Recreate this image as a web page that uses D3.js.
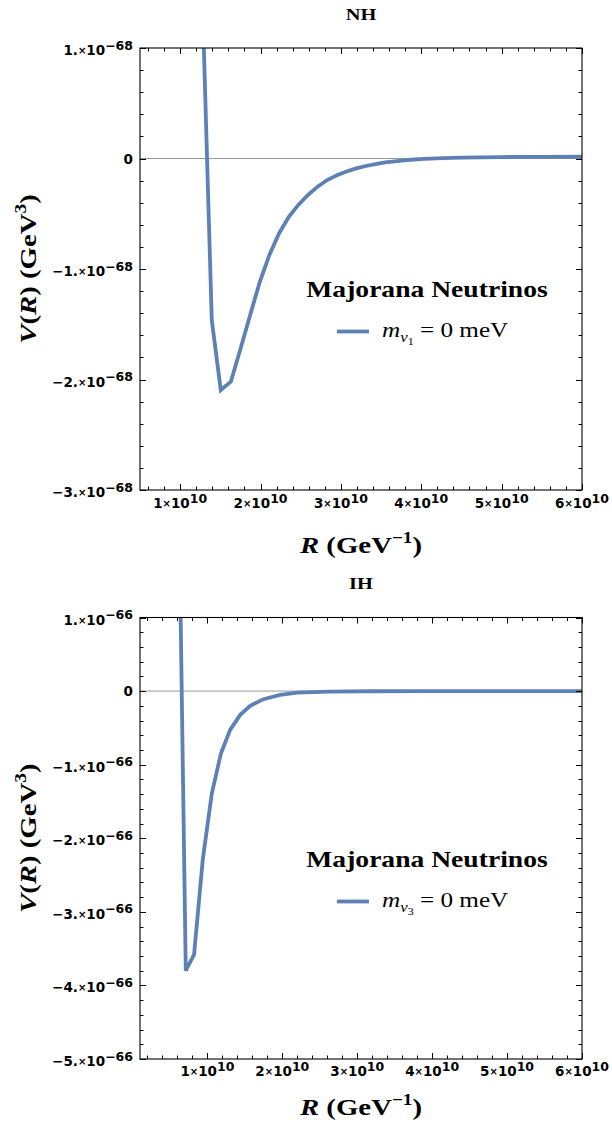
<!DOCTYPE html>
<html>
<head>
<meta charset="utf-8">
<title>V(R) NH / IH</title>
<script src="https://cdn.jsdelivr.net/npm/d3@7"></script>
<style>
  body { margin: 0; background: #fff; }
  svg text { fill: #000; }
  .tick-label { font-family: "DejaVu Sans", Arial, sans-serif; font-weight: bold; font-size: 13.5px; }
  .serif { font-family: "Liberation Serif", "Times New Roman", serif; }
</style>
</head>
<body>
<svg id="chart" width="612" height="1129"></svg>
<script>
// ---- data (R in GeV^-1, V in GeV^3) ----
// NH panel, m_nu1 = 0 meV
var nhR = [1.27e10, 1.393e10, 1.505e10, 1.63e10, 1.75e10, 1.87e10, 1.99e10, 2.11e10, 2.23e10, 2.35e10,
           2.47e10, 2.59e10, 2.71e10, 2.83e10, 2.95e10, 3.07e10, 3.19e10, 3.31e10, 3.43e10, 3.55e10,
           3.67e10, 3.79e10, 3.91e10, 4.03e10, 4.27e10, 4.51e10, 4.99e10, 5.47e10, 6.0e10];
var nhV = [1.61e-68, -1.462e-68, -2.095e-68, -2.02e-68, -1.724e-68, -1.419e-68, -1.118e-68, -0.873e-68, -0.678e-68, -0.530e-68,
           -0.420e-68, -0.330e-68, -0.255e-68, -0.195e-68, -0.152e-68, -0.118e-68, -0.090e-68, -0.068e-68, -0.050e-68, -0.036e-68,
           -0.025e-68, -0.016e-68, -0.009e-68, -0.004e-68, 0.004e-68, 0.008e-68, 0.013e-68, 0.015e-68, 0.016e-68];

// IH panel, m_nu3 = 0 meV
var ihR = [0.59e10, 0.711e10, 0.822e10, 0.938e10, 1.059e10, 1.179e10, 1.303e10, 1.437e10, 1.571e10, 1.748e10,
           1.972e10, 2.195e10, 2.64e10, 3.2e10, 4.0e10, 5.0e10, 6.0e10];
var ihV = [4.7e-66, -3.80e-66, -3.58e-66, -2.29e-66, -1.39e-66, -0.853e-66, -0.527e-66, -0.323e-66, -0.201e-66, -0.110e-66,
           -0.052e-66, -0.020e-66, -0.006e-66, -0.002e-66, 0.0, 0.0, 0.0];

// ticks
var nhXTicks = [1e10, 2e10, 3e10, 4e10, 5e10, 6e10];
var nhYTicks = [1e-68, 0, -1e-68, -2e-68, -3e-68];
var ihXTicks = [1e10, 2e10, 3e10, 4e10, 5e10, 6e10];
var ihYTicks = [1e-66, 0, -1e-66, -2e-66, -3e-66, -4e-66, -5e-66];

var panels = [
  { title: "NH", R: nhR, V: nhV, xTicks: nhXTicks, yTicks: nhYTicks, yExp: -68, nu: "1",
    xDomain: [0.5e10, 6e10], yDomain: [-3e-68, 1e-68], top: 48, bottom: 490,
    titleY: 20, legendY: 297, xLabelY: 553, xTickY: 508 },
  { title: "IH", R: ihR, V: ihV, xTicks: ihXTicks, yTicks: ihYTicks, yExp: -66, nu: "3",
    xDomain: [0.1e10, 6e10], yDomain: [-5e-66, 1e-66], top: 617.5, bottom: 1059,
    titleY: 589, legendY: 867, xLabelY: 1115, xTickY: 1076 }
];

var svg = d3.select("#chart");
var left = 140, right = 582;
var blue = "#5e81b5";
var sx = 1.2;   // the serif text in the picture is wider than Liberation Serif

// text placed with a horizontal stretch
function stext(g, x, y, extra) {
  return g.append("text")
    .attr("transform", "translate(" + x + "," + y + ")" + (extra || "") + " scale(" + sx + ",1)");
}

panels.forEach(function(p, pi) {
  var x = d3.scaleLinear().domain(p.xDomain).range([left, right]);
  var y = d3.scaleLinear().domain(p.yDomain).range([p.bottom, p.top]);
  var g = svg.append("g");

  // clip
  g.append("clipPath").attr("id", "clip" + pi)
    .append("rect").attr("x", left).attr("y", p.top)
    .attr("width", right - left).attr("height", p.bottom - p.top);

  // zero line
  g.append("line")
    .attr("x1", left).attr("x2", right)
    .attr("y1", y(0)).attr("y2", y(0))
    .attr("stroke", "#999").attr("stroke-width", 1);

  // curve
  var pts = p.R.map(function(r, i) { return [r, p.V[i]]; });
  g.append("path")
    .datum(pts)
    .attr("clip-path", "url(#clip" + pi + ")")
    .attr("fill", "none")
    .attr("stroke", blue)
    .attr("stroke-width", 3.8)
    .attr("stroke-linejoin", "miter")
    .attr("d", d3.line().x(function(d) { return x(d[0]); }).y(function(d) { return y(d[1]); }));

  // minor + major ticks on all four sides
  var xStep = 2e9;
  var xMinor = d3.range(Math.ceil(p.xDomain[0] / xStep) * xStep, p.xDomain[1] + 1, xStep);
  var yUnit = Math.pow(10, p.yExp);
  var yMinor = d3.range(p.yDomain[0] / yUnit, p.yDomain[1] / yUnit + 0.01, 0.2)
                 .map(function(v) { return Math.round(v * 10) / 10 * yUnit; });

  var tickG = g.append("g").attr("stroke", "#000").attr("stroke-width", 1);
  function isMajorX(v) { return Math.abs(v / 1e10 - Math.round(v / 1e10)) < 1e-6; }
  function isMajorY(v) { return Math.abs(v / yUnit - Math.round(v / yUnit)) < 1e-6; }

  xMinor.forEach(function(v) {
    var len = isMajorX(v) ? 6 : 3.5;
    var xx = Math.round(x(v)) + 0.5;
    tickG.append("line").attr("x1", xx).attr("x2", xx).attr("y1", p.bottom).attr("y2", p.bottom - len);
    tickG.append("line").attr("x1", xx).attr("x2", xx).attr("y1", p.top).attr("y2", p.top + len);
  });
  yMinor.forEach(function(v) {
    var len = isMajorY(v) ? 6 : 3.5;
    var yy = Math.round(y(v)) + 0.5;
    tickG.append("line").attr("x1", left).attr("x2", left + len).attr("y1", yy).attr("y2", yy);
    tickG.append("line").attr("x1", right).attr("x2", right - len).attr("y1", yy).attr("y2", yy);
  });

  // frame
  g.append("rect")
    .attr("x", left).attr("y", p.top)
    .attr("width", right - left).attr("height", p.bottom - p.top)
    .attr("fill", "none").attr("stroke", "#000").attr("stroke-width", 1.1);

  // x tick labels: "1×10^10"
  p.xTicks.forEach(function(v) {
    var m = Math.round(v / 1e10);
    var t = g.append("text").attr("class", "tick-label")
      .attr("x", x(v)).attr("y", p.xTickY).attr("text-anchor", "middle");
    t.append("tspan").text(m);
    t.append("tspan").attr("font-size", "10px").attr("dy", -1).text("\u00d7");
    t.append("tspan").attr("dy", 1).text("10");
    t.append("tspan").attr("font-size", "12.5px").attr("dy", -5).text("10");
  });

  // y tick labels: "-1.×10^-68"
  p.yTicks.forEach(function(v) {
    var m = Math.round(v / yUnit);
    var t = g.append("text").attr("class", "tick-label")
      .attr("x", 133).attr("text-anchor", "end");
    if (m === 0) {
      t.attr("y", y(v) + 5).text("0");
      return;
    }
    t.attr("y", y(v) + 7);
    t.append("tspan").text((m < 0 ? "\u2212" : "") + Math.abs(m) + ".");
    t.append("tspan").attr("font-size", "10px").attr("dy", -1).text("\u00d7");
    t.append("tspan").attr("dy", 1).text("10");
    t.append("tspan").attr("font-size", "12.5px").attr("dy", -5.5).text("\u2212" + Math.abs(p.yExp));
  });

  // title
  stext(g, (left + right) / 2, p.titleY).attr("class", "serif")
    .attr("text-anchor", "middle").attr("font-weight", "bold").attr("font-size", "17px")
    .text(p.title);

  // x axis label
  var xl = stext(g, (left + right) / 2, p.xLabelY).attr("class", "serif")
    .attr("text-anchor", "middle").attr("font-weight", "bold").attr("font-size", "24px");
  xl.append("tspan").attr("font-style", "italic").text("R");
  xl.append("tspan").text(" (GeV");
  xl.append("tspan").attr("font-size", "16px").attr("dy", -10).text("\u22121");
  xl.append("tspan").attr("dy", 10).text(")");

  // y axis label
  var yl = stext(g, 36, (p.top + p.bottom) / 2, " rotate(-90)").attr("class", "serif")
    .attr("text-anchor", "middle").attr("font-weight", "bold").attr("font-size", "24px");
  yl.append("tspan").attr("font-style", "italic").text("V");
  yl.append("tspan").text("(");
  yl.append("tspan").attr("font-style", "italic").text("R");
  yl.append("tspan").text(") (GeV");
  yl.append("tspan").attr("font-size", "16px").attr("dy", -10).text("3");
  yl.append("tspan").attr("dy", 10).text(")");

  // legend
  stext(g, 427, p.legendY).attr("class", "serif")
    .attr("text-anchor", "middle").attr("font-weight", "bold").attr("font-size", "23px")
    .text("Majorana Neutrinos");
  g.append("line")
    .attr("x1", 337).attr("x2", 369)
    .attr("y1", p.legendY + 34.5).attr("y2", p.legendY + 34.5)
    .attr("stroke", blue).attr("stroke-width", 3.8);
  var lt = stext(g, 382, p.legendY + 40).attr("class", "serif").attr("font-size", "21px");
  lt.append("tspan").attr("font-style", "italic").text("m");
  lt.append("tspan").attr("font-style", "italic").attr("font-size", "14px").attr("dy", 5).text("\u03bd");
  lt.append("tspan").attr("font-size", "10px").attr("dy", 3).text(p.nu);
  lt.append("tspan").attr("dy", -8).text(" = 0 meV");
});
</script>
</body>
</html>
